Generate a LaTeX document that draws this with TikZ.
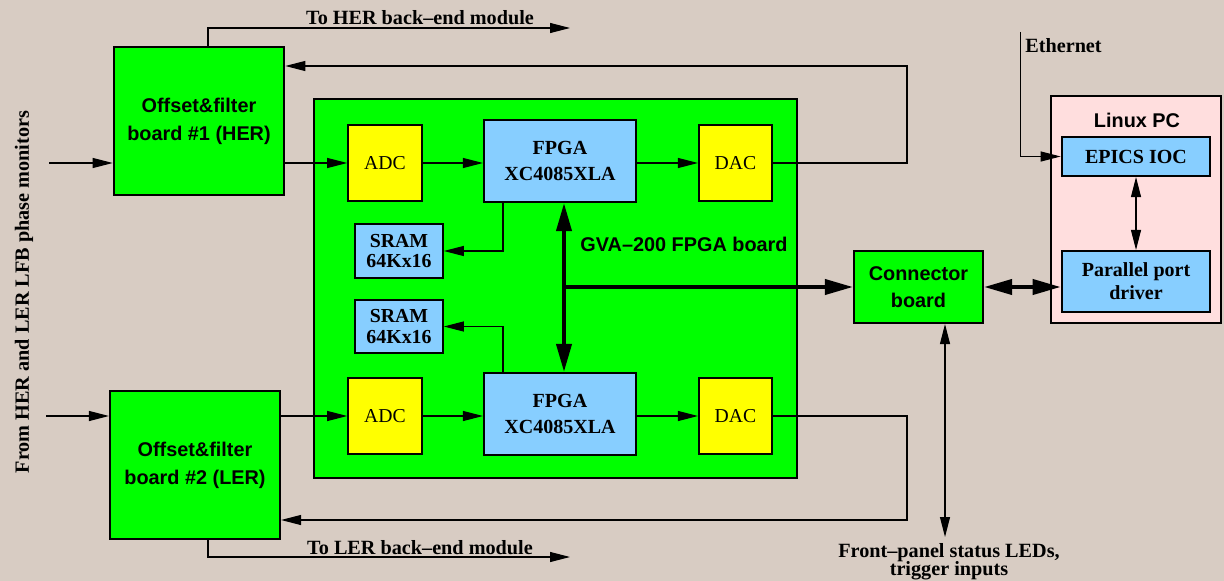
\documentclass[tikz,border=0pt]{standalone}
\usepackage{fontspec}
\setmainfont{Liberation Serif}
\setsansfont{Liberation Sans}
\usetikzlibrary{arrows.meta}
\definecolor{fbback}{RGB}{216,204,195}
\definecolor{fbgreen}{RGB}{0,255,0}
\definecolor{fbyellow}{RGB}{255,255,0}
\definecolor{fbblue}{RGB}{135,206,255}
\definecolor{fbpink}{RGB}{255,222,222}
\newcommand{\fbtight}{\lineskiplimit=-20pt\relax}
\tikzset{
  every picture/.append style={line join=miter},
  fb box/.style={draw,line width=1.2pt,inner sep=0pt,align=center},
  fb board/.style={fb box,fill=fbgreen,font=\sffamily\bfseries\fontsize{11.3}{15.9}\selectfont},
  fb chip/.style={fb box,fill=fbblue,font=\bfseries\fontsize{11.4}{15.3}\selectfont},
  fb conv/.style={fb box,fill=fbyellow,font=\fontsize{11.2}{13}\selectfont},
  fb label/.style={inner sep=0pt,font=\bfseries\fontsize{11.5}{13}\selectfont},
  fb sans label/.style={inner sep=0pt,font=\sffamily\bfseries\fontsize{11.3}{13}\selectfont},
  fb wire/.style={line width=0.6pt,-{Triangle[length=4mm,width=2mm]}},
  fb both/.style={line width=0.6pt,{Triangle[length=4mm,width=2mm]}-{Triangle[length=4mm,width=2mm]}},
  fb bus/.style={line width=2.2pt,-{Triangle[length=5.6mm,width=3mm]}},
  fb bus both/.style={line width=2.2pt,{Triangle[length=5.6mm,width=3mm]}-{Triangle[length=5.6mm,width=3mm]}}
}
\begin{document}
\begin{tikzpicture}[x=0.2mm,y=-0.2mm]
\fill[fbback] (0,0) rectangle (1224,581);
% offset & filter boards
\node[fb board,minimum width=34.1mm,minimum height=29.6mm] (her) at (199,121) {Offset\&filter\\board \#1 (HER)};
\node[fb board,minimum width=34mm,minimum height=29.6mm] (ler) at (195,465) {Offset\&filter\\board \#2 (LER)};
% FPGA board
\node[fb board,minimum width=96.6mm,minimum height=75.8mm] (gva) at (555.5,288.5) {};
\node[fb sans label] (gvalab) at (684,244) {GVA--200 FPGA board};
\node[fb conv,minimum width=14.7mm,minimum height=15.2mm] (adc1) at (385,163) {ADC};
\node[fb chip,minimum width=30.4mm,minimum height=16.4mm] (fpga1) at (560,161) {FPGA\\XC4085XLA};
\node[fb conv,minimum width=14.6mm,minimum height=15.2mm] (dac1) at (735.5,163) {DAC};
\node[fb chip,minimum width=17.5mm,minimum height=10.8mm,font=\bfseries\fontsize{11.3}{11.9}\selectfont] (sram1) at (399,251) {SRAM\\64Kx16};
\node[fb chip,minimum width=17.5mm,minimum height=10.6mm,font=\bfseries\fontsize{11.3}{11.9}\selectfont] (sram2) at (399,326.5) {SRAM\\64Kx16};
\node[fb conv,minimum width=14.7mm,minimum height=15.2mm] (adc2) at (385,416) {ADC};
\node[fb chip,minimum width=30.4mm,minimum height=16.4mm] (fpga2) at (560,414) {FPGA\\XC4085XLA};
\node[fb conv,minimum width=14.6mm,minimum height=15.2mm] (dac2) at (735.5,416) {DAC};
% connector board and PC
\node[fb board,minimum width=25.8mm,minimum height=14.4mm,font=\sffamily\bfseries\fontsize{11.3}{15.1}\selectfont] (conn) at (918.5,287) {Connector\\board};
\node[fb box,fill=fbpink,minimum width=34mm,minimum height=45.4mm] (pc) at (1136,209.5) {};
\node[fb sans label] (pclab) at (1137,120) {Linux PC};
\node[fb chip,minimum width=29.7mm,minimum height=7.8mm] (epics) at (1136,156.5) {EPICS IOC};
\node[fb chip,minimum width=29.7mm,minimum height=12.2mm,font=\bfseries\fontsize{11.4}{13.2}\selectfont] (ppd) at (1136,281.5) {Parallel port\\driver};
% free ends
\coordinate (herin) at (49,163);
\coordinate (lerin) at (46,416);
\coordinate (herfb) at (907,66);
\coordinate (lerfb) at (907,520);
\coordinate (herout) at (570,28);
\coordinate (lerout) at (570,557);
\coordinate (outx) at (208,0);
\coordinate (sramx) at (503,0);
\coordinate (busx) at (564,0);
\coordinate (eth) at (1020.6,32);
\coordinate (front) at (945,537);
% HER chain
\draw[fb wire] (herin) -- (herin -| her.west);
\draw[fb wire] (adc1 -| her.east) -- (adc1.west);
\draw[fb wire] (adc1.east) -- (adc1.east -| fpga1.west);
\draw[fb wire] (dac1.west -| fpga1.east) -- (dac1.west);
\draw[fb wire] (dac1.east) -| (herfb) -- (herfb -| her.east);
\draw[fb wire] (her.north -| outx) |- (herout);
\draw[fb wire] (fpga1.south -| sramx) |- (sram1.east);
% LER chain
\draw[fb wire] (lerin) -- (lerin -| ler.west);
\draw[fb wire] (adc2 -| ler.east) -- (adc2.west);
\draw[fb wire] (adc2.east) -- (adc2.east -| fpga2.west);
\draw[fb wire] (dac2.west -| fpga2.east) -- (dac2.west);
\draw[fb wire] (dac2.east) -| (lerfb) -- (lerfb -| ler.east);
\draw[fb wire] (ler.south -| outx) |- (lerout);
\draw[fb wire] (fpga2.north -| sramx) |- (sram2.east);
% buses
\draw[fb bus both] (fpga1.south -| busx) -- (fpga2.north -| busx);
\draw[fb bus] (conn.west -| busx) -- (conn.west);
\draw[fb bus both] (conn.east) -- (conn.east -| ppd.west);
\draw[fb both] (epics.south) -- (ppd.north);
\draw[fb wire] (eth) |- (epics.west);
\draw[fb both] (conn.south -| front) -- (front);
% labels
\node[fb label] (herlab) at (420,18) {To HER back--end module};
\node[fb label] (lerlab) at (420,548) {To LER back--end module};
\node[fb label,anchor=west] (ethlab) at (1025,45.5) {Ethernet};
\node[fb label,align=center,font=\bfseries\fontsize{11.5}{10.4}\selectfont\fbtight] (frontlab) at (949,562) {Front--panel status LEDs,\\trigger inputs};
\node[fb label,rotate=90] (inlab) at (24,292) {From HER and LER LFB phase monitors};
\end{tikzpicture}
\end{document}
